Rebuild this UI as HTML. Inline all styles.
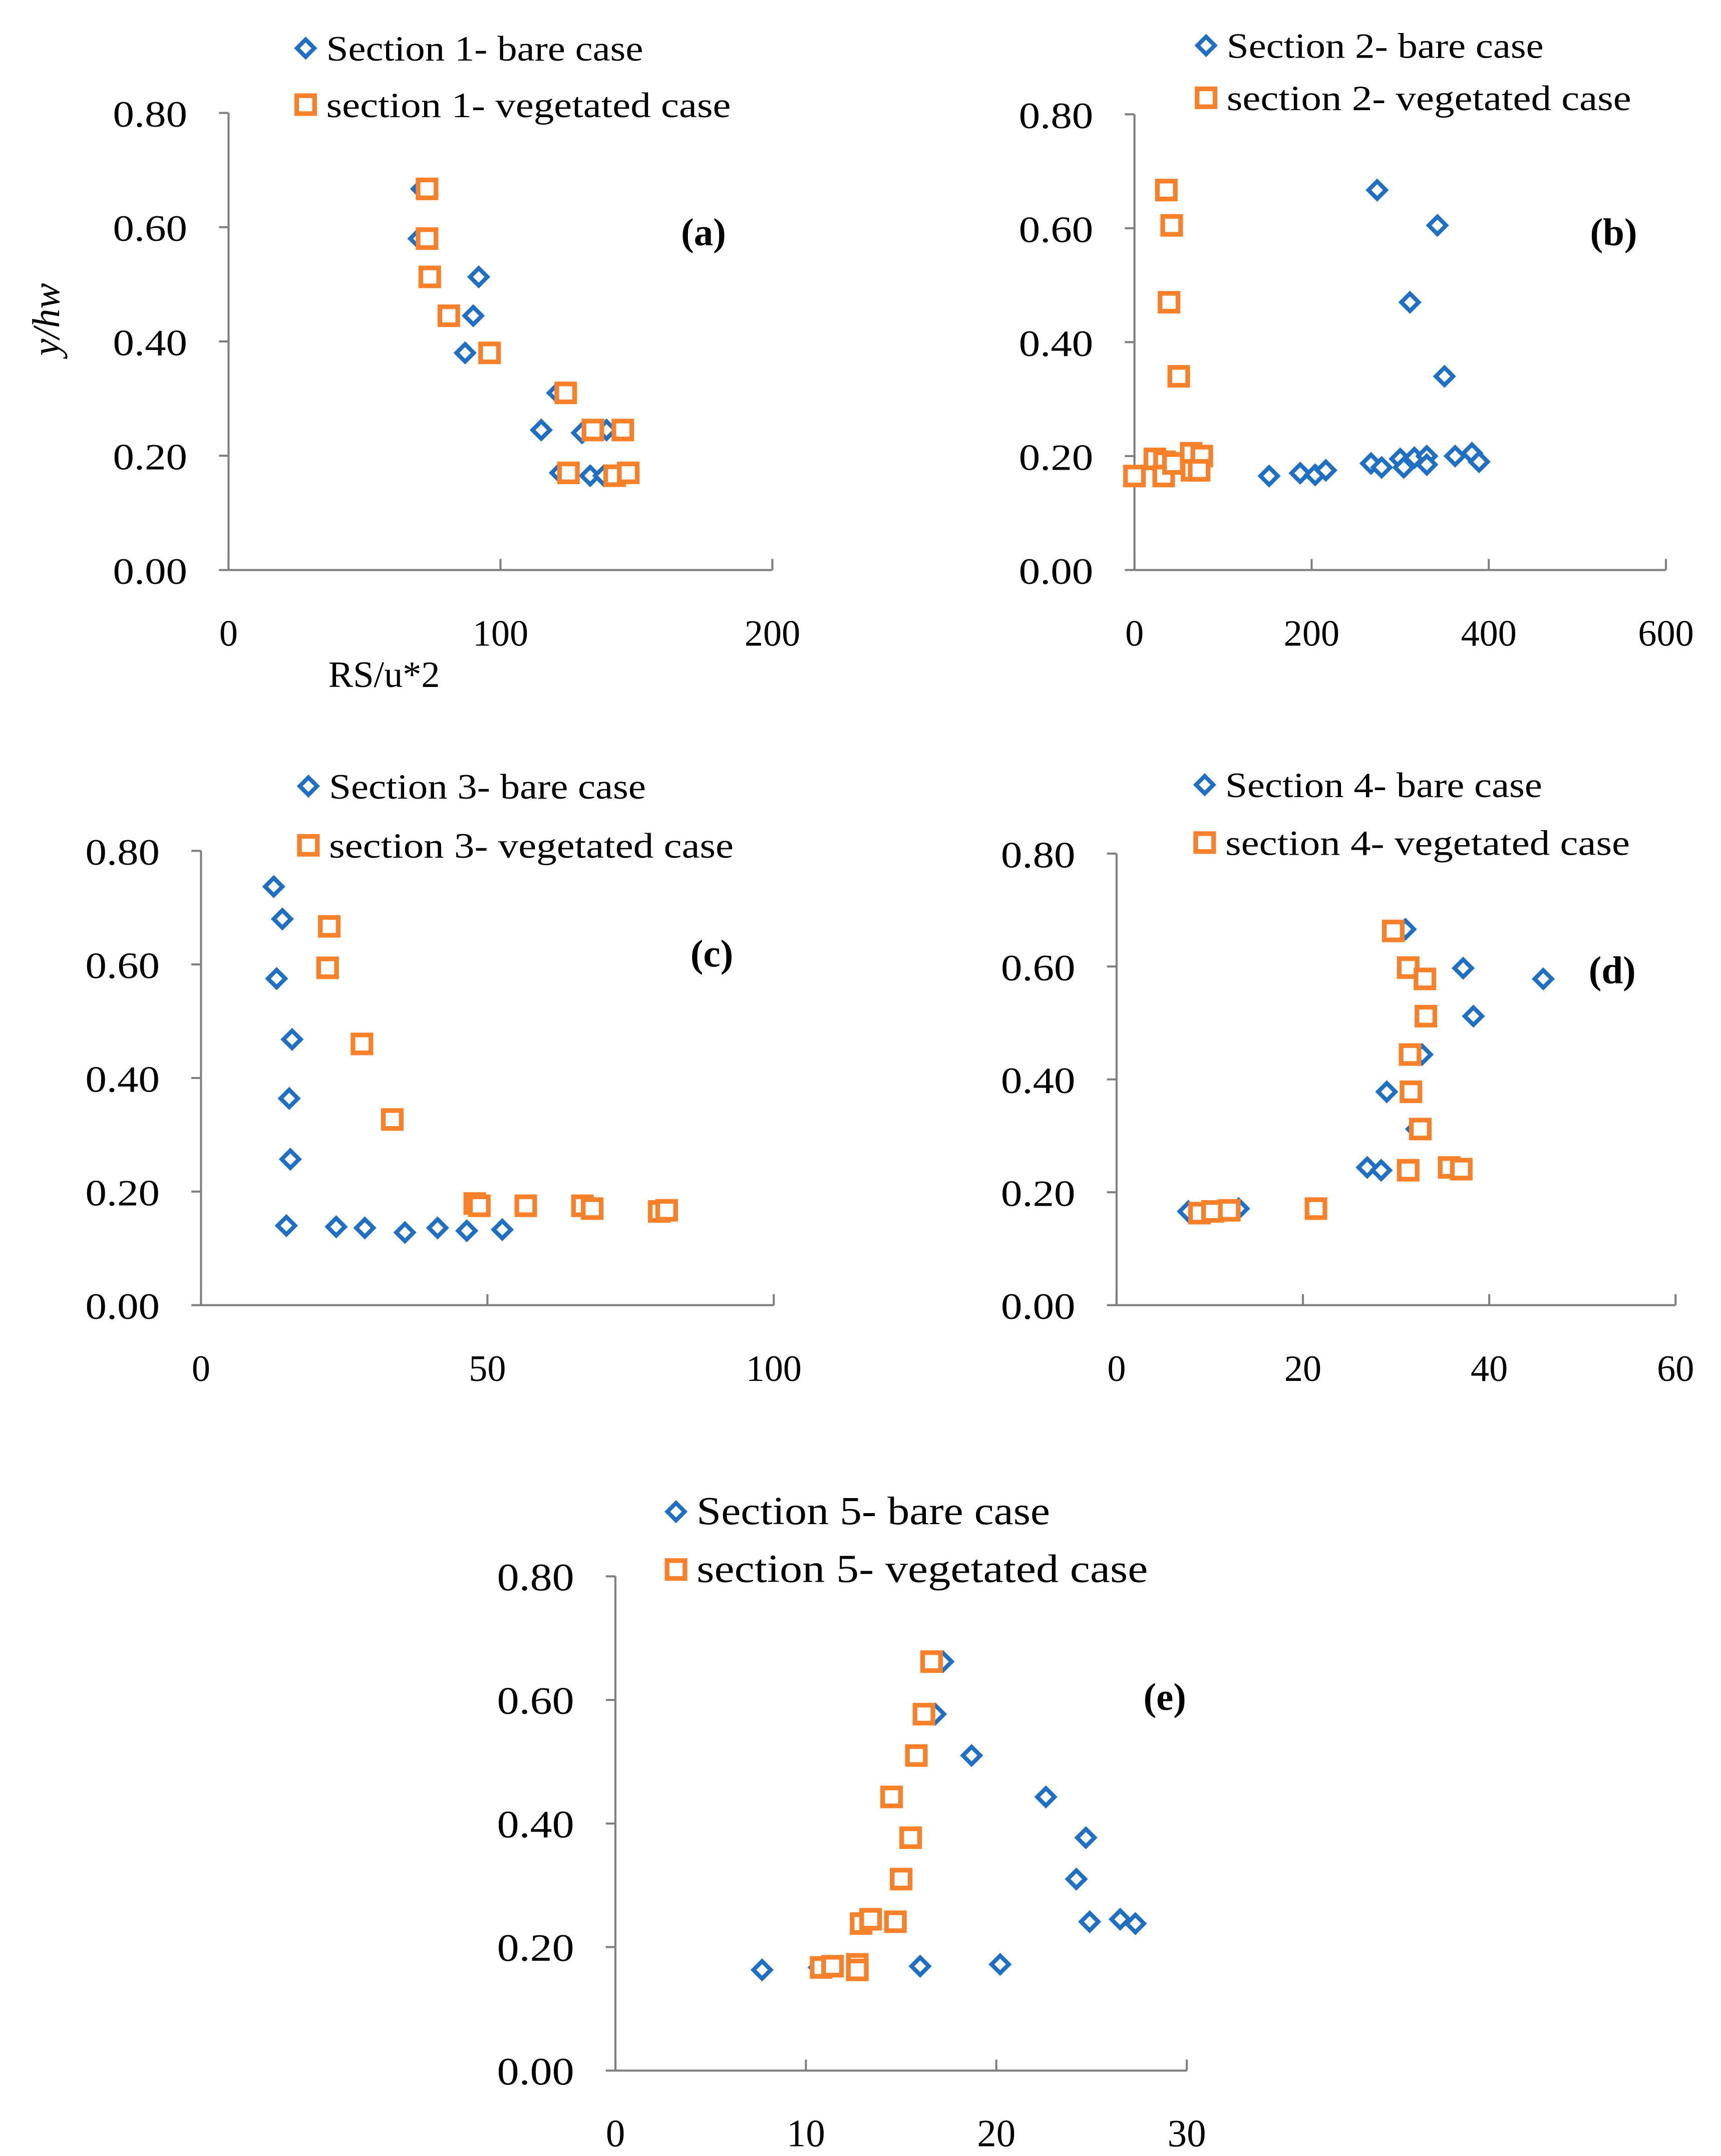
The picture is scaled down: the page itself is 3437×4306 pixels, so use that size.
<!DOCTYPE html>
<html><head><meta charset="utf-8"><style>
html,body{margin:0;padding:0;background:#fff}
svg{display:block}
text{font-family:"Liberation Serif",serif;fill:#000}
</style></head><body>
<svg id="chart" xmlns="http://www.w3.org/2000/svg" width="3437" height="4306" viewBox="0 0 1250 1566">
<rect width="1250" height="1566" fill="#fff"/>
</svg>
<script>
const aBareX=[71,70,92,90,87,121,115,130,139,122,133,138];
const aBareY=[0.667,0.58,0.513,0.445,0.38,0.31,0.245,0.24,0.245,0.17,0.165,0.165];
const aVegX=[73,73,74,81,96,124,134,145,125,142,147];
const aVegY=[0.667,0.58,0.513,0.445,0.38,0.31,0.245,0.245,0.17,0.165,0.17];
const bBareX=[274,342,311,350,152,187,204,216,267,279,300,304,316,330,330,362,381,389];
const bBareY=[0.667,0.605,0.47,0.34,0.165,0.17,0.167,0.175,0.187,0.18,0.195,0.18,0.197,0.2,0.185,0.2,0.205,0.19];
const bVegX=[36,42,39,50,0,23,34,33,44,64,65,76,73];
const bVegY=[0.667,0.605,0.47,0.34,0.165,0.195,0.19,0.165,0.187,0.205,0.175,0.2,0.175];
const cBareX=[12.7,14.2,13.2,15.9,15.4,15.6,14.9,23.6,28.6,35.6,41.3,46.4,52.6];
const cBareY=[0.737,0.68,0.575,0.468,0.364,0.257,0.14,0.138,0.136,0.128,0.136,0.131,0.133];
const cVegX=[22.4,22.1,28.1,33.4,47.8,48.6,56.7,66.6,68.3,80,81.3];
const cVegY=[0.667,0.594,0.46,0.327,0.179,0.175,0.175,0.175,0.17,0.165,0.167];
const dBareX=[31,37.2,45.8,38.3,32.8,29,32.2,26.9,28.4,7.7,13.1];
const dBareY=[0.666,0.597,0.578,0.512,0.444,0.378,0.312,0.244,0.239,0.166,0.171];
const dVegX=[29.7,31.3,33.1,33.2,31.5,31.6,32.6,31.3,35.7,37,8.9,10.3,12.1,21.4];
const dVegY=[0.663,0.598,0.578,0.512,0.444,0.378,0.312,0.239,0.244,0.241,0.163,0.166,0.168,0.171];
const eBareX=[17.2,16.8,18.7,22.6,24.7,24.2,24.9,26.5,27.3,7.7,10.7,16,20.2];
const eBareY=[0.662,0.577,0.51,0.443,0.377,0.31,0.241,0.245,0.238,0.163,0.167,0.169,0.172];
const eVegX=[16.6,16.2,15.8,14.5,15.5,15,12.9,13.4,14.7,10.8,11.4,12.7,12.7];
const eVegY=[0.662,0.577,0.51,0.443,0.377,0.31,0.238,0.245,0.241,0.167,0.169,0.172,0.163];
const yTicks=["0.00","0.20","0.40","0.60","0.80"];
const aXTicks=[0,100,200];
const bXTicks=[0,200,400,600];
const cXTicks=[0,50,100];
const dXTicks=[0,20,40,60];
const eXTicks=[0,10,20,30];

const NS="http://www.w3.org/2000/svg";
const svg=document.getElementById('chart');
function mk(tag,attrs,parent,txt){const e=document.createElementNS(NS,tag);for(const k in attrs)e.setAttribute(k,attrs[k]);if(txt!==undefined)e.textContent=txt;(parent||svg).appendChild(e);return e;}
function diamond(g,x,y){const s=6.3;const p=mk('polygon',{points:`${x},${y-s} ${x+s},${y} ${x},${y+s} ${x-s},${y}`,fill:'#fff',stroke:'#1f6fc5','stroke-width':3},g);

}
function square(g,x,y){const s=6.5;const r=mk('rect',{x:x-s,y:y-s,width:2*s,height:2*s,fill:'#fff',stroke:'#f7812a','stroke-width':3.4},g);

}

function panel(o){
  const g=mk('g',{});
  
  
  const sx=v=>o.x0+(v-o.xmin)/(o.xmax-o.xmin)*(o.x1-o.x0);
  const sy=v=>o.y0-v/0.8*(o.y0-o.y1);
  mk('line',{x1:o.x0,y1:o.y1,x2:o.x0,y2:o.y0,stroke:'#7f7f7f','stroke-width':1.5},g);
  mk('line',{x1:o.x0,y1:o.y0,x2:o.x1,y2:o.y0,stroke:'#7f7f7f','stroke-width':1.5},g);
  yTicks.forEach(t=>{const y=sy(parseFloat(t));
    mk('line',{x1:o.x0-7,y1:y,x2:o.x0,y2:y,stroke:'#7f7f7f','stroke-width':1.5},g);
    const tx=mk('text',{x:o.x0-30,y:y+10,'text-anchor':'end','font-size':o.fs,textLength:o.fs*2.0,lengthAdjust:'spacingAndGlyphs'},g,t);
    
    });
  o.xt.forEach(t=>{const x=sx(t);
    mk('line',{x1:x,y1:o.y0,x2:x,y2:o.y0-8,stroke:'#7f7f7f','stroke-width':1.5},g);
    const tx=mk('text',{x:x,y:o.y0+55,'text-anchor':'middle','font-size':o.fs},g,t);
    
    });
  o.bx.forEach((v,i)=>diamond(g,sx(v),sy(o.by[i])));
  o.vx.forEach((v,i)=>square(g,sx(v),sy(o.vy[i])));
  diamond(g,o.lx,o.ly1);
  const l1=mk('text',{x:o.lx+15,y:o.ly1+9,'font-size':o.lfs,textLength:o.lfs*8.85,lengthAdjust:'spacingAndGlyphs'},g,'Section '+o.n+'- bare case');
  
  
  square(g,o.lx,o.ly2);
  const l2=mk('text',{x:o.lx+15,y:o.ly2+9,'font-size':o.lfs,textLength:o.lfs*11.3,lengthAdjust:'spacingAndGlyphs'},g,'section '+o.n+'- vegetated case');
  
  
  const pl=mk('text',{x:o.px,y:o.py,'text-anchor':'middle','font-size':28,'font-weight':'bold'},g,'('+o.id+')');
  
  
}
panel({id:'a',n:1,x0:166,x1:561,xmin:0,xmax:200,y0:414,y1:82,xt:aXTicks,bx:aBareX,by:aBareY,vx:aVegX,vy:aVegY,lx:222,ly1:35,ly2:76,px:511,py:178,fs:27,lfs:26});
panel({id:'b',n:2,x0:824,x1:1210,xmin:0,xmax:600,y0:414,y1:83,xt:bXTicks,bx:bBareX,by:bBareY,vx:bVegX,vy:bVegY,lx:876,ly1:33,ly2:71,px:1172,py:178,fs:27,lfs:26});
panel({id:'c',n:3,x0:146,x1:562,xmin:0,xmax:100,y0:948,y1:618,xt:cXTicks,bx:cBareX,by:cBareY,vx:cVegX,vy:cVegY,lx:224,ly1:571,ly2:614,px:517,py:702,fs:27,lfs:26});
panel({id:'d',n:4,x0:811,x1:1217,xmin:0,xmax:60,y0:948,y1:620,xt:dXTicks,bx:dBareX,by:dBareY,vx:dVegX,vy:dVegY,lx:875,ly1:570,ly2:612,px:1171,py:714,fs:27,lfs:26});
panel({id:'e',n:5,x0:447,x1:862,xmin:0,xmax:30,y0:1504,y1:1145,xt:eXTicks,bx:eBareX,by:eBareY,vx:eVegX,vy:eVegY,lx:491,ly1:1098,ly2:1140,px:846,py:1242,fs:28,lfs:29});
const yt=mk('text',{x:0,y:0,'font-size':28,'font-style':'italic','text-anchor':'middle',transform:'translate(43,232) rotate(-90)'},svg,'y/hw');


const xt=mk('text',{x:279,y:499,'font-size':27,'text-anchor':'middle'},svg,'RS/u*2');


</script>
</body></html>
